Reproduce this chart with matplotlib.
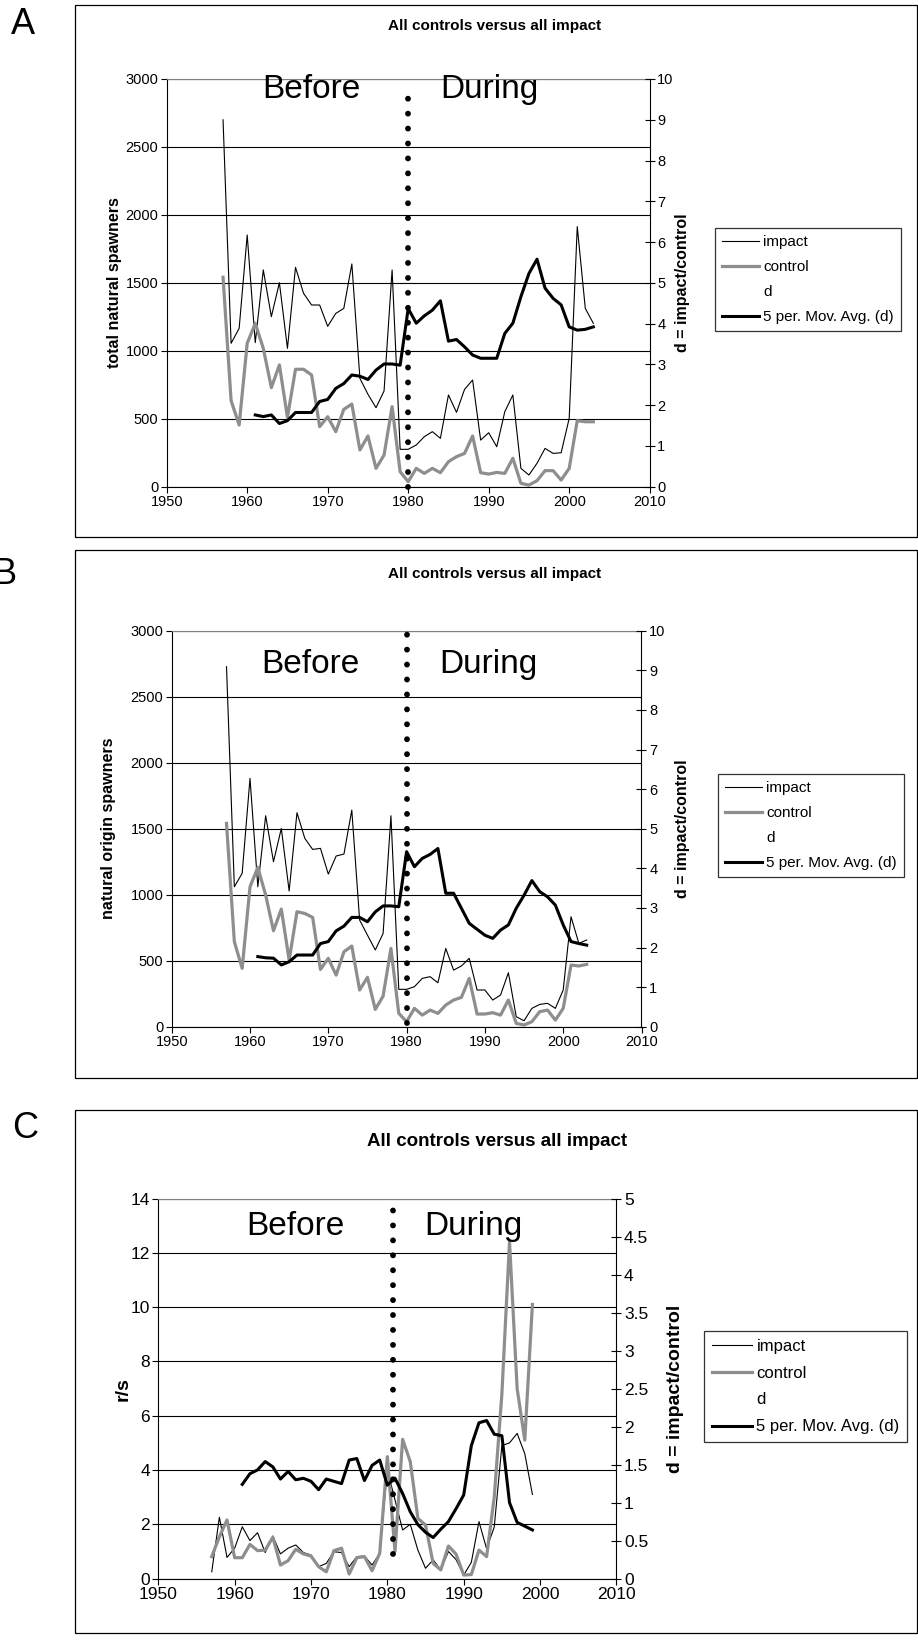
import matplotlib
matplotlib.use('Agg')
import matplotlib.pyplot as plt
from matplotlib.patches import Rectangle
from matplotlib.ticker import FuncFormatter

plt.rcParams['font.family'] = ['Liberation Sans', 'DejaVu Sans']

# ---------------- data ----------------
years = list(range(1957, 2004))
ma_years = list(range(1961, 2004))

# A: total natural spawners
a_impact = [2700, 1055, 1165, 1852, 1060, 1595, 1251, 1501, 1018, 1614, 1423, 1337, 1337, 1180,
            1275, 1312, 1639, 797, 680, 581, 704, 1595, 275, 275,
            307, 368, 405, 356, 675, 547, 716, 785, 343, 397, 294, 552, 675, 135, 86, 172,
            282, 245, 250, 503, 1914, 1312, 1202]
a_control = [1541, 633, 454, 1055, 1202, 1018, 729, 896, 510, 864, 864, 822, 442, 515,
             405, 569, 608, 270, 373, 135, 233, 589, 110, 37,
             135, 98, 135, 103, 184, 221, 245, 373, 103, 93, 105, 98, 209, 25, 12, 44,
             118, 118, 49, 135, 486, 478, 478]
a_ma = [1.76, 1.72, 1.76, 1.55, 1.62, 1.82, 1.82, 1.82, 2.09, 2.14, 2.41, 2.53, 2.74, 2.71,
        2.63, 2.86, 3.01, 3.01, 2.98, 4.37,
        4.01, 4.19, 4.33, 4.56, 3.57, 3.61, 3.43, 3.23, 3.15, 3.15, 3.15, 3.76, 4.01, 4.66,
        5.23, 5.58, 4.87, 4.62, 4.46, 3.92, 3.84, 3.86, 3.92]

# B: natural origin spawners
b_impact = [2727, 1060, 1162, 1881, 1060, 1598, 1250, 1502, 1028, 1621, 1427, 1343, 1351, 1156,
            1293, 1308, 1641, 808, 694, 581, 707, 1598, 283, 283,
            303, 366, 379, 333, 593, 429, 460, 518, 278, 278, 202, 240, 409, 76, 45, 139,
            169, 177, 139, 278, 833, 631, 657]
b_control = [1540, 644, 442, 1060, 1207, 997, 727, 891, 505, 871, 858, 828, 434, 518,
             391, 568, 611, 278, 374, 131, 232, 593, 101, 38,
             139, 88, 126, 101, 164, 202, 222, 366, 96, 96, 106, 88, 202, 25, 13, 38,
             114, 126, 50, 139, 467, 460, 472]
b_ma = [1.77, 1.74, 1.73, 1.56, 1.64, 1.81, 1.81, 1.81, 2.10, 2.15, 2.42, 2.54, 2.76, 2.76,
        2.65, 2.90, 3.05, 3.05, 3.03, 4.42,
        4.04, 4.25, 4.35, 4.50, 3.37, 3.37, 2.99, 2.61, 2.46, 2.31, 2.23, 2.44, 2.57, 2.99,
        3.32, 3.69, 3.41, 3.28, 3.07, 2.57, 2.15, 2.10, 2.06]

# C: r/s
c_years = list(range(1957, 2000))
c_ma_years = list(range(1961, 2000))
c_impact = [0.25, 2.26, 0.78, 1.12, 1.91, 1.40, 1.69, 0.96, 1.57, 0.91, 1.12, 1.24, 0.96, 0.87,
            0.44, 0.56, 0.99, 0.96, 0.44, 0.81, 0.83, 0.50, 0.93,
            4.0, 2.9, 1.79, 2.0, 1.05, 0.38, 0.69, 0.32, 1.0, 0.7, 0.13, 0.6, 2.1, 1.1, 1.9,
            4.9, 5.0, 5.35, 4.6, 3.1]
c_control = [0.81, 1.54, 2.16, 0.77, 0.77, 1.26, 1.03, 1.05, 1.52, 0.50, 0.66, 1.08, 0.91, 0.83,
             0.44, 0.25, 1.03, 1.12, 0.17, 0.77, 0.81, 0.29, 0.93,
             4.49, 1.0, 5.13, 4.31, 2.22, 1.97, 0.56, 0.32, 1.2, 0.9, 0.13, 0.15, 1.05, 0.81, 3.0,
             6.8, 12.4, 7.0, 5.1, 10.1]
c_ma = [1.24, 1.38, 1.43, 1.54, 1.47, 1.31, 1.41, 1.30, 1.32, 1.28, 1.17, 1.31, 1.28, 1.25,
        1.56, 1.58, 1.29, 1.49, 1.56,
        1.23, 1.32, 1.12, 0.88, 0.71, 0.61, 0.54, 0.65, 0.75, 0.92, 1.10, 1.75, 2.05, 2.08,
        1.90, 1.88, 1.00, 0.74, 0.69, 0.64]

title = 'All controls versus all impact'
legend_labels = ['impact', 'control', 'd', '5 per. Mov. Avg. (d)']

# ---------------- figure ----------------
W, H = 918, 1642
fig = plt.figure(figsize=(W / 100, H / 100), dpi=100)
GRAY = '#8e8e8e'


def px_axes(x0, y0, x1, y1):
    return fig.add_axes([x0 / W, 1 - y1 / H, (x1 - x0) / W, (y1 - y0) / H])


def box(x0, y0, x1, y1):
    fig.add_artist(Rectangle((x0 / W, 1 - y1 / H), (x1 - x0) / W, (y1 - y0) / H,
                             transform=fig.transFigure, fill=False, ec='black', lw=0.9))


def panel(pos, yrs, imp, ctl, ma_yrs, ma, ylim, ystep, y2lim, y2step, ylabel,
          vline, fs, lab_fs, before_y, ylab_x, y2lab_x, leg_pos, leg_fs, txt_x):
    ax = px_axes(*pos)
    ax.plot(yrs, imp, color='black', lw=0.8, label=legend_labels[0])
    ax.plot(yrs, ctl, color=GRAY, lw=2.3, label=legend_labels[1])
    # dotted separator between Before and During
    ax.plot([vline[0], vline[0]], vline[1:], color='black', lw=4.2,
            dashes=(0.01, 2.55), dash_capstyle='round', clip_on=False, zorder=5)
    ax.set_xlim(1950, 2010)
    ax.set_ylim(*ylim)
    ax.set_xticks(range(1950, 2011, 10))
    yt = [ylim[0] + i * ystep for i in range(int(round((ylim[1] - ylim[0]) / ystep)) + 1)]
    ax.set_yticks(yt)
    ax.grid(axis='y', color='black', lw=0.8)
    ax.set_axisbelow(True)
    ax.spines['top'].set_color('#808080')
    ax.spines['right'].set_visible(False)
    ax.tick_params(direction='out', length=4, width=0.8, labelsize=fs, pad=2)

    ax2 = ax.twinx()
    ax2.plot([], [], linestyle='none', label=legend_labels[2])
    ax2.plot(ma_yrs, ma, color='black', lw=2.2, label=legend_labels[3])
    ax2.set_ylim(*y2lim)
    yt2 = [y2lim[0] + i * y2step for i in range(int(round((y2lim[1] - y2lim[0]) / y2step)) + 1)]
    ax2.set_yticks(yt2)
    ax2.yaxis.set_major_formatter(FuncFormatter(lambda v, p: '{:g}'.format(v)))
    for s in ['top', 'left', 'bottom']:
        ax2.spines[s].set_visible(False)
    ax2.tick_params(direction='inout', length=7, width=0.8, labelsize=fs, pad=2)

    ax.text(txt_x[0], before_y, 'Before', fontsize=24, ha='center', va='baseline')
    ax.text(txt_x[1], before_y, 'During', fontsize=24, ha='center', va='baseline')

    y_mid = 1 - (pos[1] + pos[3]) / 2 / H
    fig.text(ylab_x / W, y_mid, ylabel, rotation=90, ha='center', va='center',
             fontsize=lab_fs, fontweight='bold')
    fig.text(y2lab_x / W, y_mid, 'd = impact/control', rotation=90, ha='center',
             va='center', fontsize=lab_fs, fontweight='bold')

    h1, l1 = ax.get_legend_handles_labels()
    h2, l2 = ax2.get_legend_handles_labels()
    leg = fig.legend(h1 + h2, l1 + l2, loc='upper left',
                     bbox_to_anchor=(leg_pos[0] / W, 1 - leg_pos[1] / H),
                     fontsize=leg_fs, frameon=True, fancybox=False, handlelength=2.4,
                     handletextpad=0.3, labelspacing=0.72, borderpad=0.45,
                     borderaxespad=0)
    leg.get_frame().set_edgecolor('black')
    leg.get_frame().set_linewidth(0.9)
    return ax, ax2


# ---------------- panel A ----------------
box(75, 5, 917, 537)
fig.text(23 / W, 1 - 24 / H, 'A', fontsize=26, ha='center', va='center')
fig.text(495 / W, 1 - 26 / H, title, fontsize=11, fontweight='bold', ha='center', va='center')
panel((166.7, 79, 649.7, 486.7), years, a_impact, a_control, ma_years, a_ma,
      (0, 3000), 500, (0, 10), 1, 'total natural spawners',
      (1980, 0, 2950), 10.5, 11.5, 2860, 115, 682.5, (715, 228), 11, (1968.0, 1990.1))

# ---------------- panel B ----------------
box(75, 550, 917, 1078)
fig.text(5 / W, 1 - 574 / H, 'B', fontsize=26, ha='center', va='center')
fig.text(495 / W, 1 - 574 / H, title, fontsize=11, fontweight='bold', ha='center', va='center')
panel((171.7, 630.7, 641.5, 1026.7), years, b_impact, b_control, ma_years, b_ma,
      (0, 3000), 500, (0, 10), 1, 'natural origin spawners',
      (1980, 30, 3000), 10.5, 11.5, 2680, 108, 682.5, (718, 774), 11, (1967.7, 1990.4))

# ---------------- panel C ----------------
box(75, 1110, 917, 1633)
fig.text(25 / W, 1 - 1128 / H, 'C', fontsize=26, ha='center', va='center')
fig.text(497 / W, 1 - 1142 / H, title, fontsize=13.5, fontweight='bold', ha='center', va='center')
panel((158.3, 1198.6, 616.4, 1578.6), c_years, c_impact, c_control, c_ma_years, c_ma,
      (0, 14), 2, (0, 5), 0.5, 'r/s',
      (1980.7, 0.9, 13.75), 12.5, 14, 12.65, 123.5, 675, (704, 1331), 12, (1967.9, 1991.3))

fig.savefig('out.png', dpi=100)
